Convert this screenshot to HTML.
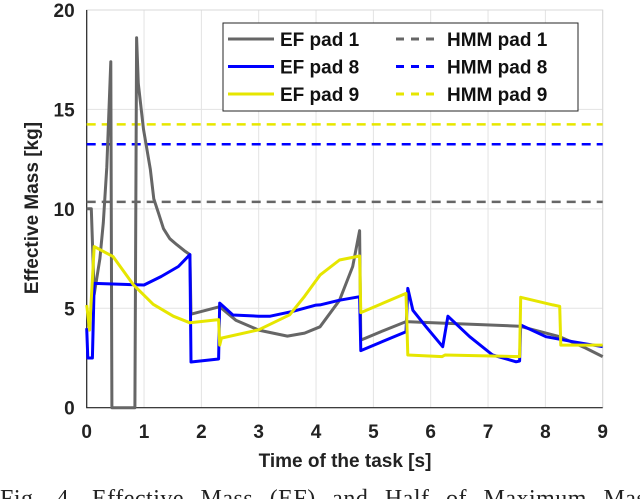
<!DOCTYPE html>
<html><head><meta charset="utf-8"><style>
body{margin:0;background:#fff;width:640px;height:499px;overflow:hidden}
svg{display:block;font-family:"Liberation Sans",sans-serif}
</style></head><body>
<svg id="c" width="640" height="499"></svg>
<script>
const xTicks=[0,1,2,3,4,5,6,7,8,9];
const yTicks=[0,5,10,15,20];
const ef1T=[0,0.08,0.13,0.23,0.29,0.35,0.42,0.44,0.84,0.87,0.9,0.99,1.11,1.17,1.25,1.34,1.45,1.57,1.7,1.8,1.82,2.32,2.6,3,3.5,3.8,4.07,4.41,4.64,4.76,4.78,5.2,5.57,5.98,7.55,8.25,8.7,9];
const ef1V=[10,10,5.7,7.5,9.3,12.1,17.4,0,0,18.6,16.3,14,12,10.5,9.8,9.0,8.5,8.2,7.9,7.7,4.7,5.08,4.4,3.9,3.6,3.75,4.07,5.4,7.1,8.9,3.4,3.9,4.33,4.28,4.1,3.57,3.0,2.57];
const ef8T=[0,0.02,0.1,0.13,1.0,1.3,1.6,1.8,1.82,2.3,2.32,2.55,3,3.2,3.6,4,4.07,4.4,4.76,4.78,5.57,5.6,5.69,5.92,6.21,6.3,6.68,7.08,7.49,7.55,7.57,8.01,8.48,9];
const ef8V=[4.0,2.5,2.5,6.25,6.17,6.6,7.1,7.7,2.3,2.45,5.26,4.66,4.6,4.6,4.85,5.16,5.17,5.4,5.58,2.87,3.82,6.0,4.9,4.07,3.07,4.6,3.57,2.65,2.31,2.35,4.16,3.57,3.32,3.07];
const ef9T=[0,0.05,0.13,0.46,0.81,1.16,1.51,1.8,2.3,2.32,2.35,3,3.54,3.8,4.07,4.41,4.76,4.78,5.57,5.6,6.2,6.25,7.55,7.57,8.13,8.25,8.27,9];
const ef9V=[5.16,3.9,8.1,7.6,6.2,5.2,4.6,4.27,4.43,3.15,3.5,3.92,4.67,5.6,6.67,7.43,7.63,4.78,5.75,2.65,2.57,2.65,2.57,5.55,5.17,5.1,3.15,3.15];
const hmmNames=["HMM pad 1","HMM pad 8","HMM pad 9"];
const hmmV=[10.35,13.25,14.25];
const efNames=["EF pad 1","EF pad 8","EF pad 9"];
const colors=["#666666","#0000ff","#e6e600"];
const X0=86.7,X1=602.7,Y0=407.7,Y1=10;
const sx=t=>X0+(t-0)/(9-0)*(X1-X0);
const sy=v=>Y0-(v/20)*(Y0-Y1);
const svg=document.getElementById('c');
const NS="http://www.w3.org/2000/svg";
function mk(tag,a,parent){const e=document.createElementNS(NS,tag);for(const k in a)e.setAttribute(k,a[k]);(parent||svg).appendChild(e);return e;}
xTicks.forEach(t=>{const l=mk('line',{x1:sx(t),x2:sx(t),y1:Y1,y2:Y0,stroke:'#e3e3e3','stroke-width':1});


const tx=mk('text',{x:sx(t),y:438,'text-anchor':'middle','font-size':19,'font-weight':'bold',fill:'#222'});tx.textContent=t;

});
yTicks.forEach(v=>{const l=mk('line',{x1:X0,x2:X1,y1:sy(v),y2:sy(v),stroke:'#e3e3e3','stroke-width':1});


const tx=mk('text',{x:X0-12,y:sy(v)+7,'text-anchor':'end','font-size':19,'font-weight':'bold',fill:'#222'});tx.textContent=v;

});
const fr=mk('rect',{x:X0,y:Y1,width:X1-X0,height:Y0-Y1,fill:'none',stroke:'#d8d8d8'});


const ax=mk('path',{d:`M${X0},${Y1}V${Y0}H${X1}`,fill:'none',stroke:'#262626','stroke-width':1.2});


hmmV.forEach((v,i)=>{const l=mk('line',{x1:X0,x2:X1,y1:sy(v),y2:sy(v),stroke:colors[i],'stroke-width':2.5,'stroke-dasharray':'9,6'});

});
[[ef1T,ef1V],[ef8T,ef8V],[ef9T,ef9V]].forEach((s,i)=>{const d=s[0].map((t,j)=>(j?'L':'M')+sx(t).toFixed(1)+','+sy(s[1][j]).toFixed(1)).join('');
const p=mk('path',{d,fill:'none',stroke:colors[i],'stroke-width':3,'stroke-linejoin':'round'});

});
const lg=mk('g',{});


mk('rect',{x:223,y:23,width:355,height:88,fill:'#fff',stroke:'#262626','stroke-width':1},lg);
[0,1,2].forEach(i=>{const y=39+i*27.5;
mk('line',{x1:228,x2:274,y1:y,y2:y,stroke:colors[i],'stroke-width':3},lg);
const t=mk('text',{x:280,y:y+7,'font-size':19,'font-weight':'bold',fill:'#111'},lg);t.textContent=efNames[i];


mk('line',{x1:396,x2:441,y1:y,y2:y,stroke:colors[i],'stroke-width':3,'stroke-dasharray':'8,7'},lg);
const t2=mk('text',{x:447,y:y+7,'font-size':19,'font-weight':'bold',fill:'#111'},lg);t2.textContent=hmmNames[i];

});
const xl=mk('text',{x:345,y:467,'text-anchor':'middle','font-size':19,'font-weight':'bold',fill:'#222'});xl.textContent='Time of the task [s]';


const yl=mk('text',{x:0,y:0,'text-anchor':'middle','font-size':19,'font-weight':'bold',fill:'#222',transform:'translate(38,208) rotate(-90)'});yl.textContent='Effective Mass [kg]';


const cap=mk('text',{x:0,y:506,'font-size':24,fill:'#222','font-family':'Liberation Serif, serif','word-spacing':'10px','letter-spacing':'0.5px'});cap.textContent='Fig. 4.  Effective Mass (EF) and Half of Maximum Mass';


</script>
</body></html>
